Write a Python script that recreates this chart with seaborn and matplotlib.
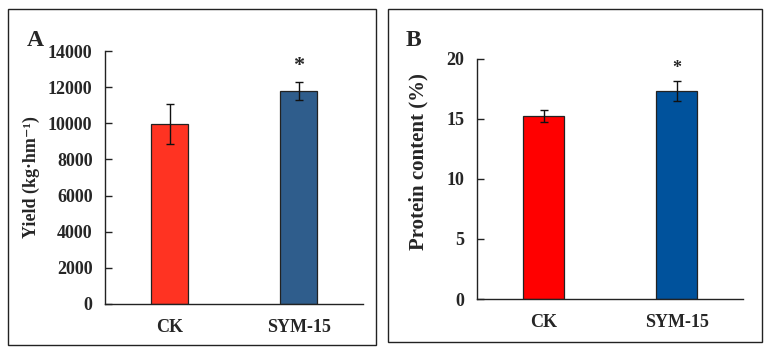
import numpy as np
import pandas as pd
import matplotlib
matplotlib.use("Agg")
import matplotlib.pyplot as plt
import seaborn as sns
from matplotlib.patches import Rectangle

# data
categories = ["CK", "SYM-15"]
yield_mean = [9950, 11800]
yield_err = [1100, 490]
protein_mean = [15.2, 17.3]
protein_err = [0.5, 0.85]
sig_marks = ["", "*"]

W, H = 769, 354
sns.set_theme(style="white")
plt.rcParams["font.family"] = ["Liberation Serif", "DejaVu Serif"]
plt.rcParams["font.weight"] = "bold"

fig = plt.figure(figsize=(W / 100, H / 100), dpi=100)


def px_axes(x0, y0, x1, y1):
    # pixel box (top-left origin) -> figure fraction
    return fig.add_axes([x0 / W, (H - y1) / H, (x1 - x0) / W, (y1 - y0) / H])


def frame(x0, y0, x1, y1):
    fig.patches.append(Rectangle((x0 / W, (H - y1) / H), (x1 - x0) / W, (y1 - y0) / H,
                                 transform=fig.transFigure, fill=False,
                                 edgecolor="#222222", linewidth=1.0))


def panel(ax, means, errs, colors, ymax, step, ylabel, bar_w, star_pad, star_size,
          lab_size, lab_xy):
    df = pd.DataFrame({"group": categories, "value": means})
    sns.barplot(data=df, x="group", y="value", hue="group", palette=colors,
                width=bar_w, edgecolor="#222222", linewidth=0.9, saturation=1,
                errorbar=None, legend=False, ax=ax)
    xs = np.arange(len(categories))
    ax.errorbar(xs, means, yerr=errs, fmt="none", ecolor="#111111",
                elinewidth=1.0, capsize=3, capthick=1.0)
    for x, m, e, s in zip(xs, means, errs, sig_marks):
        if s:
            ax.text(x, m + e + star_pad, s, ha="center", va="bottom",
                    fontsize=star_size, fontweight="bold")
    ax.set_xlim(-0.5, len(categories) - 0.5)
    ax.set_ylim(0, ymax)
    ticks = np.arange(0, ymax + step / 2, step)
    ax.set_yticks(ticks)
    ax.set_yticklabels([f"{int(v)}" for v in ticks], fontsize=13, fontweight="bold")
    ax.set_xticks(np.arange(-0.5, len(categories)), minor=True)
    ax.set_xticks(xs)
    ax.set_xticklabels(categories, fontsize=13, fontweight="bold")
    ax.tick_params(axis="x", which="major", length=0, pad=11)
    ax.tick_params(axis="x", which="minor", direction="in", length=5, width=1, color="#222222")
    ax.tick_params(axis="y", direction="in", length=5, width=1, color="#222222", pad=9, left=True)
    ax.set_xlabel("")
    ax.set_ylabel(ylabel, fontsize=lab_size, fontweight="bold")
    ax.yaxis.set_label_coords(*lab_xy)
    for side in ["top", "right"]:
        ax.spines[side].set_visible(False)
    for side in ["left", "bottom"]:
        ax.spines[side].set_color("#222222")
        ax.spines[side].set_linewidth(1.0)


# panel A
frame(8, 9, 376, 345)
axA = px_axes(105, 51, 363, 304)
panel(axA, yield_mean, yield_err, ["#FF3322", "#2F5D8C"], 14000, 2000,
      "Yield (kg·hm⁻¹)", 0.29, 350, 16, 13, (-0.252, 0.5))
fig.text(27 / W, 1 - 46 / H, "A", fontsize=17, fontweight="bold")

# panel B
frame(388, 9, 762, 342)
axB = px_axes(477, 58.7, 743, 299)
panel(axB, protein_mean, protein_err, ["#FF0000", "#00529C"], 20, 5,
      "Protein content (%)", 0.31, 0.35, 13, 15, (-0.184, 0.57))
fig.text(406 / W, 1 - 46 / H, "B", fontsize=17, fontweight="bold")

fig.savefig("out.png", dpi=100)
